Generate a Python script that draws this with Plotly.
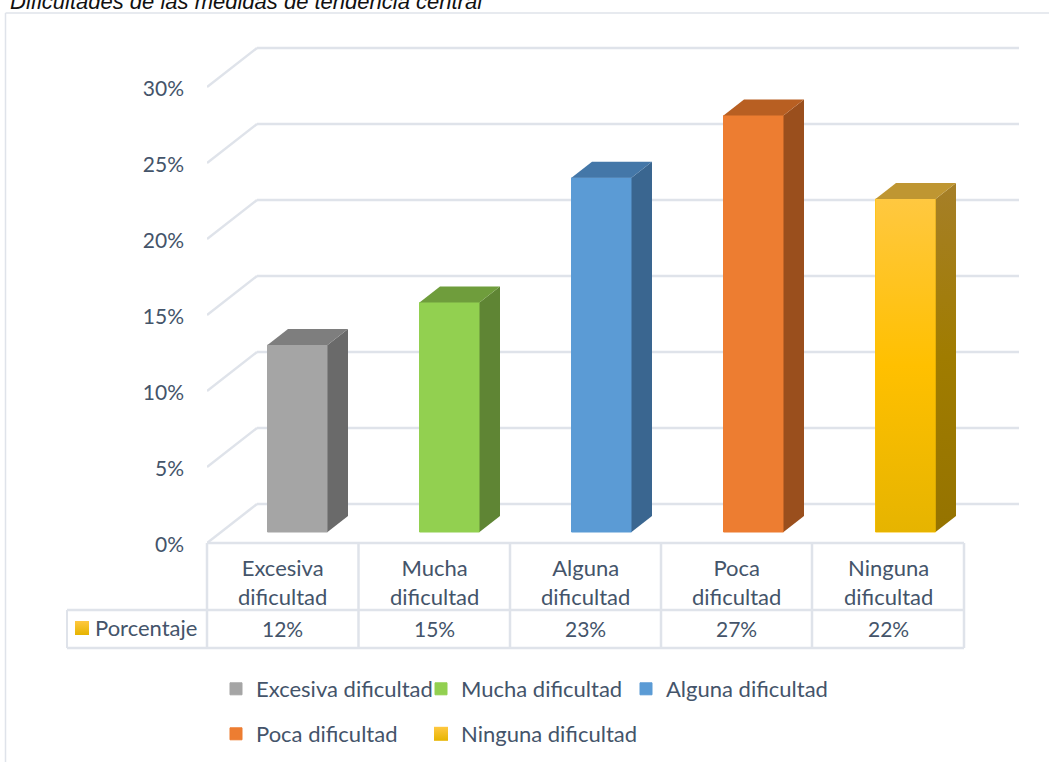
import plotly.graph_objects as go

CATEGORIES = ["Excesiva dificultad", "Mucha dificultad", "Alguna dificultad", "Poca dificultad", "Ninguna dificultad"]
TABLE_CATS = ["Excesiva<br>dificultad", "Mucha<br>dificultad", "Alguna<br>dificultad", "Poca<br>dificultad", "Ninguna<br>dificultad"]
VALUES = [12.3, 15.1, 23.3, 27.4, 21.9]
TABLE_LABELS = ["12%", "15%", "23%", "27%", "22%"]
TICKS = [0, 5, 10, 15, 20, 25, 30]
FRONT = ["#A5A5A5", "#92D050", "#5B9BD5", "#ED7D31", "#FFC000"]
SIDE = ["#6A6A6A", "#5F8534", "#3A6690", "#9A4F1D", "#A07C00"]
TOP = ["#7E7E7E", "#6F9D3C", "#4477A8", "#B85F22", "#BF9632"]
TITLE = "Dificultades de las medidas de tendencia central"

W, H = 1049, 762
TXT = "#44546A"
LINE = "#DFE3EA"
FONT = "Lato"
FS = 22
FS_NUM = 21

# pixel geometry of the plotting frame
PX_L, PX_R, PX_T, PX_B = 207, 1019, 30, 552
PX_PER_CAT, PX_PER_PCT = 152.0, 15.2
BAR0_PX, BASE_PX = 297.5, 532


def xd(px):
    return (px - BAR0_PX) / PX_PER_CAT


def yd(py):
    return (BASE_PX - py) / PX_PER_PCT


def xp(px):
    return px / W


def yp(py):
    return (H - py) / H


BAR_W = 60 / PX_PER_CAT
DX, DY = 20.5 / PX_PER_CAT, 16 / PX_PER_PCT
WALL_FRONT = yd(543)
WALL_BACK = yd(504)
TICK_LABEL = yd(544.5)
WALL_DX = xd(257)
LEFT = xd(PX_L)
RIGHT = xd(PX_R)

fig = go.Figure()
shapes = []
for t in TICKS:
    shapes.append(dict(type="line", xref="x", yref="y", layer="below", x0=WALL_DX, x1=RIGHT,
                       y0=t + WALL_BACK, y1=t + WALL_BACK, line=dict(color=LINE, width=2.5)))
    shapes.append(dict(type="line", xref="x", yref="y", layer="below", x0=LEFT, x1=WALL_DX,
                       y0=t + WALL_FRONT, y1=t + WALL_BACK, line=dict(color=LINE, width=2.5)))

# chart frame
shapes.append(dict(type="line", xref="paper", yref="paper", x0=xp(5.5), x1=xp(5.5), y0=yp(13), y1=0, line=dict(color=LINE, width=1.5)))
shapes.append(dict(type="line", xref="paper", yref="paper", x0=xp(5.5), x1=1, y0=yp(13), y1=yp(13), line=dict(color=LINE, width=1.5)))

# data table
col_x = [207, 358.5, 510, 661, 812, 964]
for x in col_x:
    shapes.append(dict(type="line", xref="paper", yref="paper", x0=xp(x), x1=xp(x), y0=yp(543), y1=yp(648), line=dict(color=LINE, width=2.5)))
shapes.append(dict(type="line", xref="paper", yref="paper", x0=xp(67), x1=xp(67), y0=yp(610), y1=yp(648), line=dict(color=LINE, width=2)))
shapes.append(dict(type="line", xref="paper", yref="paper", x0=xp(207), x1=xp(964), y0=yp(543), y1=yp(543), line=dict(color=LINE, width=2.5)))
for y in (610, 648):
    shapes.append(dict(type="line", xref="paper", yref="paper", x0=xp(67), x1=xp(964), y0=yp(y), y1=yp(y), line=dict(color=LINE, width=2.5)))

# bars (front faces)
for i, (c, v) in enumerate(zip(CATEGORIES, VALUES)):
    last = i == len(VALUES) - 1
    fig.add_trace(go.Bar(x=[i], y=[v], width=BAR_W, name=c, marker=dict(color=FRONT[i], line=dict(width=1, color=FRONT[i])),
                         showlegend=not last, legend="legend" if i < 3 else "legend2", hoverinfo="skip"))

# depth faces of the bars
for i, v in enumerate(VALUES):
    l, r = i - BAR_W / 2, i + BAR_W / 2
    side = dict(x=[r, r + DX, r + DX, r, r], y=[0, DY, v + DY, v, 0])
    top = dict(x=[l, l + DX, r + DX, r, l], y=[v, v + DY, v + DY, v, v])
    common = dict(mode="lines", line=dict(width=0), fill="toself", showlegend=False, hoverinfo="skip")
    if i == len(VALUES) - 1:
        fig.add_trace(go.Scatter(**side, **common, fillgradient=dict(type="vertical", colorscale=[[0, "#957300"], [0.5, "#A07C00"], [1, "#A67F28"]])))
        fig.add_trace(go.Scatter(x=[l, r, r, l, l], y=[0, 0, v, v, 0], **common,
                                 fillgradient=dict(type="vertical", colorscale=[[0, "#E6B400"], [0.5, "#FFC000"], [1, "#FFC840"]])))
    else:
        fig.add_trace(go.Scatter(**side, **common, fillcolor=SIDE[i]))
    fig.add_trace(go.Scatter(**top, **common, fillcolor=TOP[i]))

# table key + last legend entry: a gradient square, on a full-page overlay axis pair
fig.add_trace(go.Scatter(x=[82], y=[628], xaxis="x2", yaxis="y2", mode="markers", name=CATEGORIES[-1], legend="legend2",
                         marker=dict(symbol="square", size=14, color="#FFC840", line=dict(width=0),
                                     gradient=dict(type="vertical", color="#E6B400")), hoverinfo="skip"))

# invisible spacer entries, so the legends' clip box does not cut the last label
for lg in ("legend", "legend2"):
    fig.add_trace(go.Scatter(x=[None], y=[None], mode="markers", name=" ", legend=lg,
                             marker=dict(color="rgba(0,0,0,0)", size=1), hoverinfo="skip"))

ann = [dict(text=f"<i>{TITLE}</i>", xref="paper", yref="paper", x=xp(8), y=yp(16), xanchor="left", yanchor="bottom",
            showarrow=False, font=dict(family="Liberation Sans", size=22, color="#111111"))]
for i in range(5):
    cx = (col_x[i] + col_x[i + 1]) / 2
    ann.append(dict(text=TABLE_CATS[i], xref="paper", yref="paper", x=xp(cx), y=yp(582), showarrow=False,
                    font=dict(family=FONT, size=FS, color=TXT), align="center", yanchor="middle", xanchor="center"))
    ann.append(dict(text=TABLE_LABELS[i], xref="paper", yref="paper", x=xp(cx), y=yp(628.5), showarrow=False,
                    font=dict(family=FONT, size=FS_NUM, color=TXT), yanchor="middle", xanchor="center"))
ann.append(dict(text="Porcentaje", xref="paper", yref="paper", x=xp(93), y=yp(627.5), showarrow=False,
                font=dict(family=FONT, size=FS, color=TXT), yanchor="middle", xanchor="left"))

legend_common = dict(orientation="h", xanchor="left", yanchor="middle", bgcolor="rgba(0,0,0,0)", borderwidth=0,
                     font=dict(family=FONT, size=FS, color=TXT), entrywidth=160, entrywidthmode="pixels",
                     itemclick=False, itemdoubleclick=False, traceorder="normal")

fig.update_layout(
    width=W, height=H, margin=dict(l=0, r=0, t=0, b=0, autoexpand=False),
    paper_bgcolor="white", plot_bgcolor="rgba(0,0,0,0)", barmode="overlay",
    xaxis=dict(domain=[xp(PX_L), xp(PX_R)], range=[LEFT, RIGHT], visible=False),
    yaxis=dict(domain=[yp(PX_B), yp(PX_T)], range=[yd(PX_B), yd(PX_T)], showgrid=False, zeroline=False, showline=False,
               tickmode="array", tickvals=[t + TICK_LABEL for t in TICKS], ticktext=[f"{t}%" for t in TICKS],
               ticks="", ticklabelstandoff=22, tickfont=dict(family=FONT, size=FS_NUM, color=TXT)),
    xaxis2=dict(domain=[0, 1], range=[0, W], visible=False, anchor="y2"),
    yaxis2=dict(domain=[0, 1], range=[H, 0], visible=False, anchor="x2"),
    shapes=shapes, annotations=ann,
    legend=dict(x=xp(216), y=yp(689), **legend_common),
    legend2=dict(x=xp(216), y=yp(734), **legend_common),
)

fig.write_html("out.html", config={"displayModeBar": False}, post_script="document.body.style.margin='0';")
